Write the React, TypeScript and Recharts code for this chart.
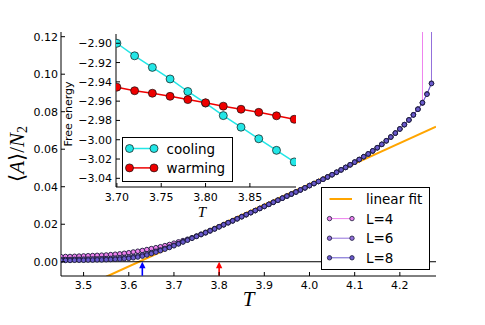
import React from 'react';
import { ComposedChart, Line, XAxis, YAxis, ReferenceLine, ReferenceDot, CartesianGrid, Legend } from 'recharts';

// ---------- main panel data ----------
const temps = [
  3.45, 3.46, 3.47, 3.48, 3.49, 3.50, 3.51, 3.52, 3.53, 3.54,
  3.55, 3.56, 3.57, 3.58, 3.59, 3.60, 3.61, 3.62, 3.63, 3.64,
  3.65, 3.66, 3.67, 3.68, 3.69, 3.70, 3.71, 3.72, 3.73, 3.74,
  3.75, 3.76, 3.77, 3.78, 3.79, 3.80, 3.81, 3.82, 3.83, 3.84,
  3.85, 3.86, 3.87, 3.88, 3.89, 3.90, 3.91, 3.92, 3.93, 3.94,
  3.95, 3.96, 3.97, 3.98, 3.99, 4.00, 4.01, 4.02, 4.03, 4.04,
  4.05, 4.06, 4.07, 4.08, 4.09, 4.10, 4.11, 4.12, 4.13, 4.14,
  4.15, 4.16, 4.17, 4.18, 4.19, 4.20, 4.21, 4.22, 4.23, 4.24,
  4.25, 4.26, 4.27, 4.28,
];

const L4 = [
  0.0027, 0.0028, 0.0028, 0.0029, 0.0030, 0.0031, 0.0032, 0.0033, 0.0034, 0.0035,
  0.0036, 0.0038, 0.0040, 0.0042, 0.0045, 0.0048, 0.0052, 0.0056, 0.0060, 0.0065,
  0.0070, 0.0075, 0.0080, 0.0086, 0.0092, 0.0099, 0.0106, 0.0113, 0.0120, 0.0128,
  0.0136, 0.0145, 0.0154, 0.0164, 0.0175, 0.0187, 0.0198, 0.0209, 0.0219, 0.0230,
  0.0241, 0.0251, 0.0262, 0.0273, 0.0284, 0.0295, 0.0306, 0.0317, 0.0328, 0.0339,
  0.0350, 0.0361, 0.0372, 0.0383, 0.0394, 0.0406, 0.0417, 0.0428, 0.0440, 0.0452,
  0.0464, 0.0477, 0.0490, 0.0503, 0.0517, 0.0531, 0.0545, 0.0560, 0.0575, 0.0591,
  0.0608, 0.0626, 0.0645, 0.0665, 0.0686, 0.0708, 0.0731, 0.0756, 0.0784, 0.0814,
  0.0846, 2.5,
];

const L6 = [
  0.0012, 0.0012, 0.0012, 0.0013, 0.0013, 0.0014, 0.0014, 0.0015, 0.0015, 0.0016,
  0.0017, 0.0018, 0.0019, 0.0021, 0.0023, 0.0025, 0.0028, 0.0032, 0.0037, 0.0043,
  0.0049, 0.0056, 0.0063, 0.0071, 0.0079, 0.0088, 0.0097, 0.0107, 0.0117, 0.0127,
  0.0137, 0.0147, 0.0157, 0.0167, 0.0177, 0.0187, 0.0197, 0.0208, 0.0218, 0.0229,
  0.0240, 0.0251, 0.0262, 0.0273, 0.0284, 0.0295, 0.0306, 0.0317, 0.0328, 0.0339,
  0.0350, 0.0361, 0.0372, 0.0383, 0.0394, 0.0406, 0.0417, 0.0428, 0.0440, 0.0452,
  0.0464, 0.0477, 0.0490, 0.0503, 0.0517, 0.0531, 0.0545, 0.0560, 0.0575, 0.0591,
  0.0608, 0.0626, 0.0645, 0.0665, 0.0686, 0.0708, 0.0731, 0.0756, 0.0783, 0.0813,
  0.0849, 0.0895, 0.0952, 3.0,
];

const L8 = [
  0.0007, 0.0007, 0.0007, 0.0008, 0.0008, 0.0008, 0.0009, 0.0009, 0.0010, 0.0010,
  0.0011, 0.0012, 0.0013, 0.0014, 0.0016, 0.0018, 0.0021, 0.0025, 0.0030, 0.0036,
  0.0043, 0.0051, 0.0059, 0.0067, 0.0076, 0.0085, 0.0095, 0.0105, 0.0115, 0.0125,
  0.0135, 0.0145, 0.0155, 0.0165, 0.0175, 0.0186, 0.0197, 0.0208, 0.0218, 0.0229,
  0.0240, 0.0251, 0.0262, 0.0273, 0.0284, 0.0295, 0.0306, 0.0317, 0.0328, 0.0339,
  0.0350, 0.0361, 0.0372, 0.0383, 0.0394, 0.0406, 0.0417, 0.0428, 0.0440, 0.0452,
  0.0464, 0.0477, 0.0490, 0.0503, 0.0517, 0.0531, 0.0545, 0.0560, 0.0575, 0.0591,
  0.0608, 0.0626, 0.0645, 0.0665, 0.0686, 0.0708, 0.0731, 0.0756, 0.0783, 0.0813,
  0.0848, 0.0893, 0.0950,
];

const fitT = [3.55, 4.28];
const fitV = [-0.0080, 0.0720];

const xTicks = [3.5, 3.6, 3.7, 3.8, 3.9, 4.0, 4.1, 4.2];
const yTicks = [0, 0.02, 0.04, 0.06, 0.08, 0.1, 0.12];

const arrowT = [3.63, 3.80];
const arrowColors = ['#0000ff', '#ff0000'];

// ---------- inset data ----------
const insetT = [3.70, 3.72, 3.74, 3.76, 3.78, 3.80, 3.82, 3.84, 3.86, 3.88, 3.90];
const cooling = [-2.900, -2.913, -2.925, -2.937, -2.950, -2.962, -2.975, -2.987, -2.999, -3.011, -3.023];
const warming = [-2.9455, -2.9492, -2.9518, -2.9550, -2.9584, -2.9617, -2.9652, -2.9684, -2.9716, -2.9752, -2.9788];
const insetXTicks = [3.70, 3.75, 3.80, 3.85];
const insetYTicks = [-3.04, -3.02, -3.00, -2.98, -2.96, -2.94, -2.92, -2.90];

const series = [
  { name: 'L=4', values: L4, color: '#ee82ee' },
  { name: 'L=6', values: L6, color: '#9370db' },
  { name: 'L=8', values: L8, color: '#6a5acd' },
];
const fitColor = '#ffa500';
const coolColor = '#22e6e6';
const warmColor = '#ee0000';
const edgeColor = '#1a1a3a';

const toRows = (xs: number[], vs: number[]) => vs.map((v, i) => ({ T: xs[i], v }));
const fitData = toRows(fitT, fitV);
const coolData = toRows(insetT, cooling);
const warmData = toRows(insetT, warming);

const FONT = '"DejaVu Sans", sans-serif';
const SERIF = '"Liberation Serif", "DejaVu Serif", serif';

const fmt = (d: number) => (v: number) => {
  const s = Number(v).toFixed(d);
  return s.startsWith('-') ? '\u2212' + s.slice(1) : s;
};

type TickOpts = { len: number; format?: (v: number) => string; off?: number; fs?: number };

const makeTick = (side: 'bottom' | 'top' | 'left' | 'right', o: TickOpts) => (props: any) => {
  const { x, y, payload } = props;
  const L = o.len;
  const fs = o.fs ?? 11;
  let line: React.ReactNode = null;
  let label: React.ReactNode = null;
  if (side === 'bottom') {
    line = <line x1={x} y1={y} x2={x} y2={y - L} stroke="#000" strokeWidth={1} />;
    if (o.format) label = <text x={x} y={y + (o.off ?? 13)} textAnchor="middle" fontFamily={FONT} fontSize={fs} fill="#000">{o.format(payload.value)}</text>;
  } else if (side === 'top') {
    line = <line x1={x} y1={y} x2={x} y2={y + L} stroke="#000" strokeWidth={1} />;
  } else if (side === 'left') {
    line = <line x1={x} y1={y} x2={x + L} y2={y} stroke="#000" strokeWidth={1} />;
    if (o.format) label = <text x={x - (o.off ?? 3)} y={y + 4} textAnchor="end" fontFamily={FONT} fontSize={fs} fill="#000">{o.format(payload.value)}</text>;
  } else {
    line = <line x1={x} y1={y} x2={x - L} y2={y} stroke="#000" strokeWidth={1} />;
  }
  return <g>{line}{label}</g>;
};

const Arrow = (props: any) => {
  const { cx, cy, fill } = props;
  return (
    <g>
      <rect x={cx - 0.8} y={cy + 5} width={1.6} height={9} fill={fill} />
      <polygon points={`${cx},${cy} ${cx - 3.2},${cy + 6.5} ${cx + 3.2},${cy + 6.5}`} fill={fill} />
    </g>
  );
};

const MainLegend = () => {
  const rows = [{ name: 'linear fit', color: fitColor, fit: true }, ...series.map(s => ({ name: s.name, color: s.color, fit: false }))];
  return (
    <svg width={109} height={83} style={{ display: 'block' }}>
      <rect x={0.5} y={0.5} width={108} height={82} fill="#fff" stroke="#000" strokeWidth={1} />
      {rows.map((r, i) => {
        const cy = 12 + i * 19.6;
        return (
          <g key={r.name}>
            <line x1={8.5} y1={cy} x2={31} y2={cy} stroke={r.color} strokeWidth={r.fit ? 2 : 1} />
            {!r.fit && <circle cx={8.5} cy={cy} r={2.2} fill={r.color} stroke={edgeColor} strokeWidth={0.8} />}
            {!r.fit && <circle cx={31} cy={cy} r={2.2} fill={r.color} stroke={edgeColor} strokeWidth={0.8} />}
            <text x={45} y={cy + 5} fontFamily={FONT} fontSize={13.5} fill="#000">{r.name}</text>
          </g>
        );
      })}
    </svg>
  );
};

const InsetLegend = () => {
  const rows = [{ name: 'cooling', color: coolColor }, { name: 'warming', color: warmColor }];
  return (
    <svg width={111} height={45} style={{ display: 'block' }}>
      <rect x={0.5} y={0.5} width={110} height={44} fill="#fff" stroke="#000" strokeWidth={1} />
      {rows.map((r, i) => {
        const cy = 11.5 + i * 19.4;
        return (
          <g key={r.name}>
            <line x1={7.5} y1={cy} x2={32} y2={cy} stroke={r.color} strokeWidth={1.5} />
            <circle cx={7.5} cy={cy} r={4} fill={r.color} stroke="#111" strokeWidth={0.7} />
            <circle cx={32} cy={cy} r={4} fill={r.color} stroke="#111" strokeWidth={0.7} />
            <text x={44.5} y={cy + 5} fontFamily={FONT} fontSize={13.5} fill="#000">{r.name}</text>
          </g>
        );
      })}
    </svg>
  );
};

const YMainLabel = (props: any) => {
  const vb = props.viewBox || { x: 0, y: 32, width: 61, height: 244 };
  const cx = 17;
  const cy = vb.y + vb.height / 2;
  return (
    <text x={cx} y={cy} transform={`rotate(-90, ${cx}, ${cy})`} textAnchor="middle" dominantBaseline="central" fontFamily={SERIF} fontSize={21} fill="#000">
      <tspan>{'\u27E8'}</tspan>
      <tspan fontStyle="italic">A</tspan>
      <tspan>{'\u27E9/'}</tspan>
      <tspan fontStyle="italic">N</tspan>
      <tspan fontSize={14} dy={5}>2</tspan>
    </text>
  );
};

const XMainLabel = (props: any) => {
  const vb = props.viewBox || { x: 61, y: 276, width: 375, height: 49 };
  return (
    <text x={vb.x + vb.width / 2} y={306} textAnchor="middle" fontFamily={SERIF} fontStyle="italic" fontSize={21} fill="#000">T</text>
  );
};

const XInsetLabel = (props: any) => {
  const vb = props.viewBox || { x: 60, y: 157, width: 180, height: 34 };
  return (
    <text x={vb.x + vb.width / 2 - 4} y={vb.y + 30} textAnchor="middle" fontFamily={SERIF} fontStyle="italic" fontSize={15} fill="#000">T</text>
  );
};

const YInsetLabel = () => {
  const cx = 12;
  const cy = 84;
  return (
    <text x={cx} y={cy} transform={`rotate(-90, ${cx}, ${cy})`} textAnchor="middle" dominantBaseline="central" fontFamily={FONT} fontSize={11} fill="#000">Free energy</text>
  );
};

const mainXDomain = [3.45, 4.28];
const mainYDomain = [-0.0076, 0.1225];
const insetXDomain = [3.699, 3.902];
const insetYDomain = [-3.049, -2.8904];

export default function App() {
  return (
    <div style={{ position: 'absolute', left: 0, top: 0, width: 485, height: 325, background: '#fff' }}>
      <div style={{ position: 'absolute', left: 0, top: 0 }}>
        <ComposedChart width={485} height={325} margin={{ top: 32, right: 49, bottom: 0, left: 0 }}>
          <XAxis xAxisId="b" type="number" dataKey="T" domain={mainXDomain} ticks={xTicks} allowDataOverflow interval={0}
            height={49} tickSize={0} tickMargin={0} tickLine={false} axisLine={{ stroke: '#000', strokeWidth: 1 }}
            tick={makeTick('bottom', { len: 4, format: fmt(1), off: 13 })} label={XMainLabel} />
          <XAxis xAxisId="t" orientation="top" type="number" dataKey="T" domain={mainXDomain} ticks={xTicks} allowDataOverflow interval={0}
            height={0} tickSize={0} tickMargin={0} tickLine={false} axisLine={{ stroke: '#000', strokeWidth: 1 }}
            tick={makeTick('top', { len: 4 })} />
          <YAxis yAxisId="l" type="number" domain={mainYDomain} ticks={yTicks} allowDataOverflow interval={0}
            width={61} tickSize={0} tickMargin={0} tickLine={false} axisLine={{ stroke: '#000', strokeWidth: 1 }}
            tick={makeTick('left', { len: 4, format: fmt(2), off: 3 })} label={YMainLabel} />
          <YAxis yAxisId="r" orientation="right" type="number" domain={mainYDomain} ticks={yTicks} allowDataOverflow interval={0}
            width={0} tickSize={0} tickMargin={0} tickLine={false} axisLine={{ stroke: '#000', strokeWidth: 1 }}
            tick={makeTick('right', { len: 4 })} />
          <Line xAxisId="b" yAxisId="l" data={fitData} dataKey="v" stroke={fitColor} strokeWidth={2} dot={false}
            isAnimationActive={false} legendType="line" name="linear fit" />
          {series.map(s => (
            <Line key={s.name} xAxisId="b" yAxisId="l" data={toRows(temps, s.values)} dataKey="v" name={s.name}
              stroke={s.color} strokeWidth={1}
              dot={{ r: 2.3, fill: s.color, stroke: edgeColor, strokeWidth: 0.9 }}
              activeDot={false} isAnimationActive={false} />
          ))}
          <ReferenceLine xAxisId="b" yAxisId="l" y={0} stroke="#000" strokeWidth={1} />
          {arrowT.map((t, i) => (
            <ReferenceDot key={t} xAxisId="b" yAxisId="l" x={t} y={0} r={3} fill={arrowColors[i]} stroke="none" shape={Arrow} />
          ))}
          <Legend layout="horizontal" verticalAlign="middle" align="center"
            wrapperStyle={{ position: 'absolute', left: 321, top: 187, width: 109, height: 83 }}
            content={() => <MainLegend />} />
        </ComposedChart>
      </div>
      <div style={{ position: 'absolute', left: 56, top: 30 }}>
        <ComposedChart width={245} height={191} margin={{ top: 4, right: 5, bottom: 0, left: 0 }}>
          <CartesianGrid xAxisId="b" yAxisId="l" horizontal={false} vertical={false} fill="#fff" stroke="none" />
          <XAxis xAxisId="b" type="number" dataKey="T" domain={insetXDomain} ticks={insetXTicks} allowDataOverflow interval={0}
            height={34} tickSize={0} tickMargin={0} tickLine={false} axisLine={{ stroke: '#000', strokeWidth: 1 }}
            tick={makeTick('bottom', { len: 4, format: fmt(2), off: 14 })} label={XInsetLabel} />
          <XAxis xAxisId="t" orientation="top" type="number" dataKey="T" domain={insetXDomain} ticks={insetXTicks} allowDataOverflow interval={0}
            height={0} tickSize={0} tickMargin={0} tickLine={false} axisLine={{ stroke: '#000', strokeWidth: 1 }}
            tick={makeTick('top', { len: 4 })} />
          <YAxis yAxisId="l" type="number" domain={insetYDomain} ticks={insetYTicks} allowDataOverflow interval={0}
            width={60} tickSize={0} tickMargin={0} tickLine={false} axisLine={{ stroke: '#000', strokeWidth: 1 }}
            tick={makeTick('left', { len: 4, format: fmt(2), off: 4 })} label={YInsetLabel} />
          <YAxis yAxisId="r" orientation="right" type="number" domain={insetYDomain} ticks={insetYTicks} allowDataOverflow interval={0}
            width={0} tickSize={0} tickMargin={0} tickLine={false} axisLine={{ stroke: '#000', strokeWidth: 1 }}
            tick={makeTick('right', { len: 4 })} />
          <Line xAxisId="b" yAxisId="l" data={coolData} dataKey="v" name="cooling" stroke={coolColor} strokeWidth={1.5}
            dot={{ r: 4, fill: coolColor, stroke: '#111', strokeWidth: 0.7 }} activeDot={false} isAnimationActive={false} />
          <Line xAxisId="b" yAxisId="l" data={warmData} dataKey="v" name="warming" stroke={warmColor} strokeWidth={1.5}
            dot={{ r: 4, fill: warmColor, stroke: '#111', strokeWidth: 0.7 }} activeDot={false} isAnimationActive={false} />
          <Legend layout="horizontal" verticalAlign="middle" align="center"
            wrapperStyle={{ position: 'absolute', left: 66, top: 107, width: 111, height: 45 }}
            content={() => <InsetLegend />} />
        </ComposedChart>
      </div>
    </div>
  );
}
